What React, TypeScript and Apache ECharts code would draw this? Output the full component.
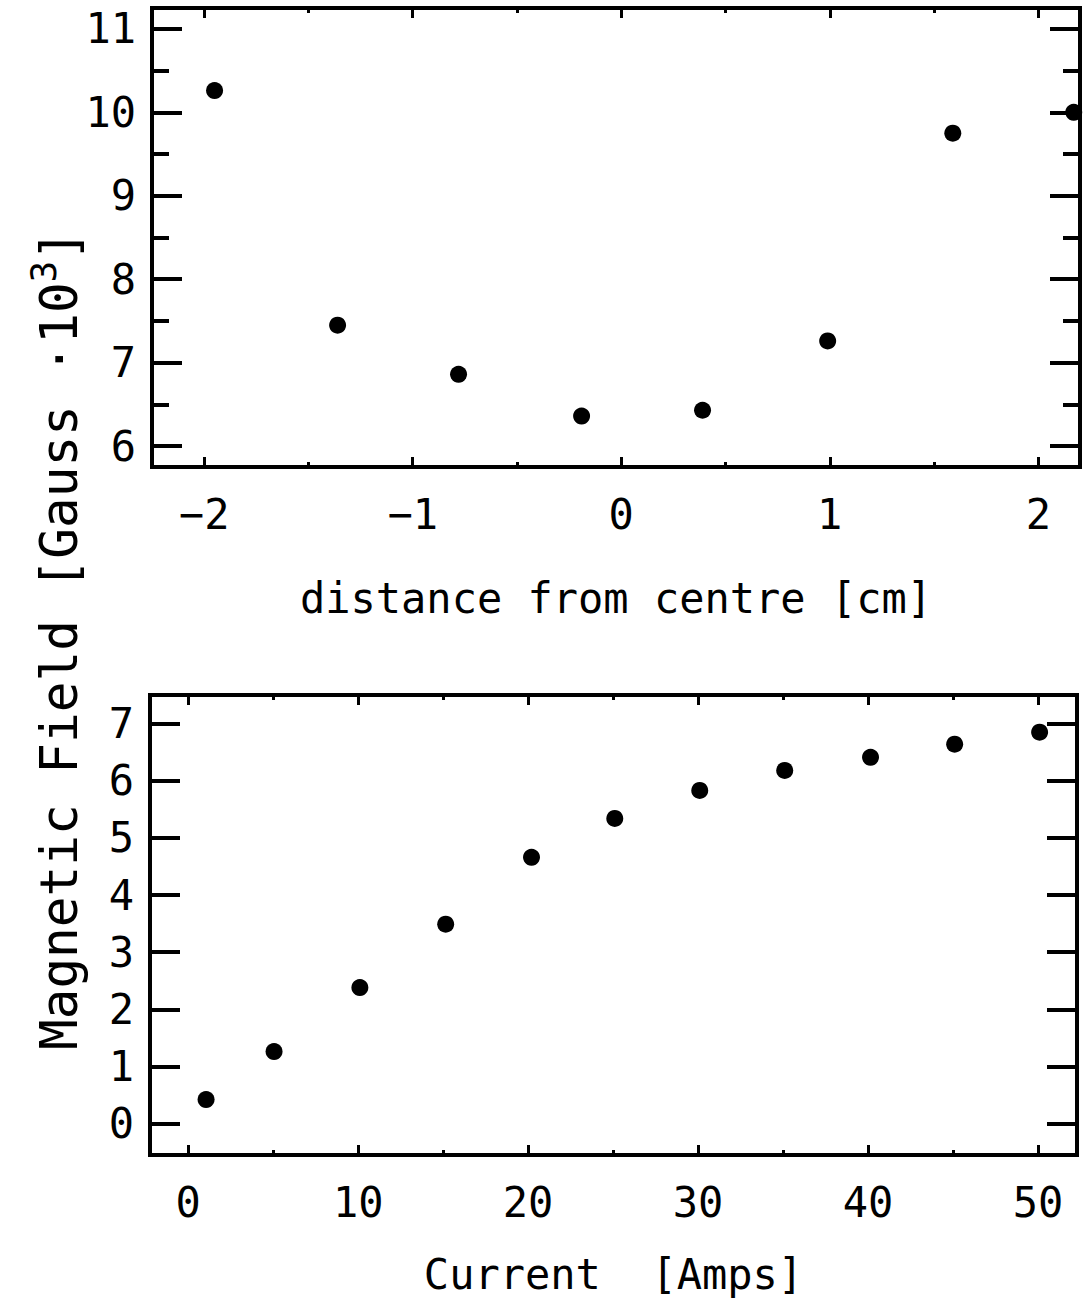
import React, { useEffect, useRef } from "react";
import * as echarts from "echarts";

const distance = [-1.95, -1.36, -0.78, -0.19, 0.39, 0.99, 1.59, 2.17];
const fieldVsDistance = [10.26, 7.45, 6.86, 6.36, 6.43, 7.26, 9.75, 10.0];
const current = [1.05, 5.05, 10.1, 15.15, 20.2, 25.1, 30.1, 35.1, 40.15, 45.1, 50.1];
const fieldVsCurrent = [0.42, 1.26, 2.38, 3.49, 4.66, 5.34, 5.83, 6.18, 6.41, 6.64, 6.85];

const xTitleTop = "distance from centre [cm]";
const xTitleBottom = "Current  [Amps]";

const FONT = "DejaVu Sans Mono";

export default function App() {
  const ref = useRef<HTMLDivElement>(null);
  useEffect(() => {
    if (!ref.current) return;
    const chart = echarts.init(ref.current, undefined, { renderer: "svg" });
    const xLine = { color: "#000", width: 3 };
    const yLine = { color: "#000", width: 4 };
    const label = { fontFamily: FONT, fontSize: 42, color: "#000" };
    const xAxisCommon = (gridIndex: number, min: number, max: number, splitNumber: number) => ({
      type: "value",
      gridIndex,
      min,
      max,
      splitNumber,
      axisLine: { show: false, onZero: false },
      splitLine: { show: false },
      axisTick: { show: true, inside: true, length: 10, lineStyle: xLine },
      minorTick: { show: true, splitNumber: 2, length: 5, lineStyle: xLine },
    });
    const yAxisCommon = (gridIndex: number, min: number, max: number, splitNumber: number, minor: boolean) => ({
      type: "value",
      gridIndex,
      min,
      max,
      splitNumber,
      axisLine: { show: false, onZero: false },
      splitLine: { show: false },
      axisTick: { show: true, inside: true, length: 30, lineStyle: yLine },
      minorTick: { show: minor, splitNumber: 2, length: 17, lineStyle: yLine },
    });
    const option: any = {
      animation: false,
      backgroundColor: "#fff",
      grid: [
        { left: 152, top: 8, width: 928, height: 459, show: true, borderColor: "#000", borderWidth: 4, backgroundColor: "transparent" },
        { left: 150, top: 695, width: 927, height: 460, show: true, borderColor: "#000", borderWidth: 4, backgroundColor: "transparent" },
      ],
      xAxis: [
        {
          ...xAxisCommon(0, -2.25, 2.2, 5),
          position: "bottom",
          axisLabel: { ...label, margin: 26, showMinLabel: false, showMaxLabel: false, formatter: (v: number) => String(v).replace("-", "\u2212") },
          name: xTitleTop,
          nameLocation: "middle",
          nameGap: 110,
          nameTextStyle: { fontFamily: FONT, fontSize: 42, color: "#000" },
        },
        { ...xAxisCommon(0, -2.25, 2.2, 5), position: "top", axisLabel: { show: false } },
        {
          ...xAxisCommon(1, -2.25, 52.3, 5),
          position: "bottom",
          axisLabel: { ...label, margin: 26, showMinLabel: false, showMaxLabel: false },
          name: xTitleBottom,
          nameLocation: "middle",
          nameGap: 98,
          nameTextStyle: { fontFamily: FONT, fontSize: 42, color: "#000" },
        },
        { ...xAxisCommon(1, -2.25, 52.3, 5), position: "top", axisLabel: { show: false } },
      ],
      yAxis: [
        { ...yAxisCommon(0, 5.75, 11.25, 5, true), position: "left", axisLabel: { ...label, margin: 16, showMinLabel: false, showMaxLabel: false } },
        { ...yAxisCommon(0, 5.75, 11.25, 5, true), position: "right", axisLabel: { show: false } },
        { ...yAxisCommon(1, -0.55, 7.5, 8, false), position: "left", axisLabel: { ...label, margin: 16, showMinLabel: false, showMaxLabel: false } },
        { ...yAxisCommon(1, -0.55, 7.5, 8, false), position: "right", axisLabel: { show: false } },
      ],
      graphic: [
        {
          type: "text",
          x: 55,
          y: 640,
          rotation: Math.PI / 2,
          style: {
            text: "{a|Magnetic Field [Gauss \u00b710}{s|3}{a|]}",
            align: "center",
            verticalAlign: "middle",
            fill: "#000",
            rich: {
              a: { fontFamily: FONT, fontSize: 51, fill: "#000", verticalAlign: "bottom", lineHeight: 60 },
              s: { fontFamily: FONT, fontSize: 36, fill: "#000", verticalAlign: "top", lineHeight: 60, padding: [0, 0, 22, 0] },
            },
          },
        },
      ],
      series: [
        {
          type: "scatter",
          xAxisIndex: 0,
          yAxisIndex: 0,
          symbol: "circle",
          symbolSize: 17,
          itemStyle: { color: "#000", opacity: 1 },
          data: distance.map((d, i) => [d, fieldVsDistance[i]]),
          clip: false,
        },
        {
          type: "scatter",
          xAxisIndex: 2,
          yAxisIndex: 2,
          symbol: "circle",
          symbolSize: 17,
          itemStyle: { color: "#000", opacity: 1 },
          data: current.map((c, i) => [c, fieldVsCurrent[i]]),
          clip: false,
        },
      ],
    };
    chart.setOption(option);
    return () => chart.dispose();
  }, []);
  return (
    <div
      ref={ref}
      style={{ position: "absolute", left: 0, top: 0, width: 1088, height: 1309, background: "#fff" }}
    />
  );
}
